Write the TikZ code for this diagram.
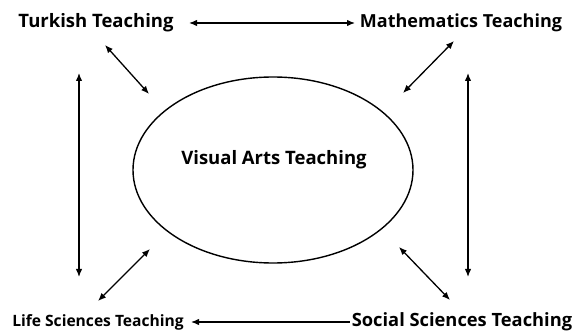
\documentclass[tikz,border=0pt]{standalone}
\usepackage{fontspec}
\setmainfont{Open Sans}
\usetikzlibrary{arrows.meta}
\tikzset{
  lbl/.style={inner sep=0pt, font=\bfseries\fontsize{#1}{#1}\selectfont},
  tip/.tip={Latex[length=8pt,width=6.5pt]},
  conn/.style={line width=1.3pt, tip-tip},
  oneway/.style={line width=1.3pt, tip-},
}
\begin{document}
\begin{tikzpicture}[x=1pt,y=-1pt]
\useasboundingbox (0,0) rectangle (576,331);
% ellipse
\draw[line width=1.4pt] (273,170) ellipse [x radius=140, y radius=93];
\node[lbl=18.5] (va) at (274,160) {Visual Arts Teaching};
% labels
\node[lbl=18.5] (tu) at (96,23) {Turkish Teaching};
\node[lbl=18] (ma) at (461,23) {Mathematics Teaching};
\node[lbl=15.6] (ls) at (98,322) {Life Sciences Teaching};
\node[lbl=18.3] (ss) at (462,322) {Social Sciences Teaching};
% coordinates
\coordinate (t1) at (189,23);
\coordinate (t2) at (355,23);
\coordinate (b1) at (191,322);
\coordinate (b2) at (350,322);
\coordinate (lv1) at (79,73);
\coordinate (lv2) at (79,277);
\coordinate (rv1) at (468,73);
\coordinate (rv2) at (468,277);
\coordinate (d1a) at (105,45);
\coordinate (d1b) at (149,94);
\coordinate (d2a) at (454,41);
\coordinate (d2b) at (403,93);
\coordinate (d3a) at (98,301);
\coordinate (d3b) at (150,249);
\coordinate (d4a) at (399,247);
\coordinate (d4b) at (450,300);
% connectors
\draw[conn] (t1) -- (t2);
\draw[oneway] (b1) -- (b2);
\draw[conn] (lv1) -- (lv2);
\draw[conn] (rv1) -- (rv2);
\draw[conn] (d1a) -- (d1b);
\draw[conn] (d2a) -- (d2b);
\draw[conn] (d3a) -- (d3b);
\draw[conn] (d4a) -- (d4b);
\end{tikzpicture}
\end{document}
